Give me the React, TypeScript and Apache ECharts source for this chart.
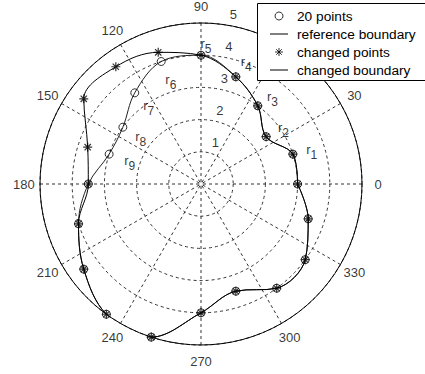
import React, { useEffect, useRef } from 'react';
import * as echarts from 'echarts';

// Angles (degrees) of the 20 sampled boundary points
const pointAngles = [0, 18, 36, 54, 72, 90, 108, 126, 144, 162, 180, 198, 216, 234, 252, 270, 288, 306, 324, 342];
// Radii of the reference boundary points
const referenceRadii = [3.0, 3.0, 2.5, 3.0, 3.5, 4.0, 4.0, 3.5, 3.0, 3.0, 3.5, 4.0, 4.5, 5.0, 5.0, 4.0, 3.5, 4.0, 4.0, 3.5];
// Radii of the changed boundary points
const changedRadii = [3.0, 3.0, 2.5, 3.0, 3.5, 4.0, 4.3, 4.5, 4.5, 3.7, 3.5, 4.0, 4.5, 5.0, 5.0, 4.0, 3.5, 4.0, 4.0, 3.5];

// Tick labels
const angleTickLabels = [0, 30, 60, 90, 120, 150, 180, 210, 240, 270, 300, 330];
const ringTickLabels = [1, 2, 3, 4, 5];

// r_i annotations: subscript, radius, angle
const markerSubscripts = ['1', '2', '3', '4', '5', '6', '7', '8', '9'];
const markerRadii = [3.6, 3.1, 3.51, 4.06, 4.38, 3.38, 2.93, 2.38, 2.33];
const markerAngles = [17.2, 34.3, 50.8, 69.8, 88, 106.1, 123.7, 141.9, 162];

const legendNames = ['20 points', 'reference boundary', 'changed points', 'changed boundary'];

const FONT = '"Liberation Sans", Arial, sans-serif';
const STAR = 'path://M5,0L5,10M0,5L10,5M1.5,1.5L8.5,8.5M8.5,1.5L1.5,8.5';
const LINE_ICON = 'path://M0,0M0,3.5L18,3.5L18,4.5L0,4.5ZM18,8';

export default function App() {
  const ref = useRef<HTMLDivElement>(null);

  useEffect(() => {
    if (!ref.current) return;
    const chart = echarts.init(ref.current, null, { renderer: 'svg' });

    const refPts = pointAngles.map((a, i) => [referenceRadii[i], a]);
    const chgPts = pointAngles.map((a, i) => [changedRadii[i], a]);
    const refLoop = [...refPts, [referenceRadii[0], 360]];
    const chgLoop = [...chgPts, [changedRadii[0], 360]];

    const gridLine = { color: '#333', width: 1, type: [3, 3] };
    const hollow = { color: 'transparent', borderColor: '#000', borderWidth: 1 };

    const option: any = {
      animation: false,
      backgroundColor: '#fff',
      textStyle: { fontFamily: FONT },
      polar: { center: [201, 184], radius: 161 },
      angleAxis: {
        type: 'value',
        min: 0,
        max: 360,
        interval: 30,
        startAngle: 0,
        clockwise: false,
        axisLine: { show: true, lineStyle: { color: '#000', width: 1 } },
        axisTick: { show: false },
        axisLabel: { show: false },
        splitLine: { show: true, lineStyle: gridLine },
      },
      radiusAxis: {
        type: 'value',
        min: 0,
        max: 5,
        interval: 1,
        axisLine: { show: false },
        axisTick: { show: false },
        axisLabel: { show: false },
        splitLine: { show: true, lineStyle: gridLine },
      },
      graphic: [
        {
          type: 'rect',
          z: 50,
          shape: { x: 257.5, y: 3.5, width: 200, height: 77 },
          style: { fill: '#fff', stroke: '#000', lineWidth: 1 },
        },
      ],
      legend: {
        orient: 'vertical',
        left: 257,
        top: 3,
        z: 60,
        padding: [6, 4, 4, 13],
        itemWidth: 18,
        itemHeight: 8,
        itemGap: 4,
        backgroundColor: 'transparent',
        borderWidth: 0,
        selectedMode: false,
        textStyle: { fontFamily: FONT, fontSize: 13.7, color: '#000', lineHeight: 14, padding: [0, 0, 0, 4] },
        data: [
          { name: legendNames[0], icon: 'circle', itemStyle: { ...hollow } },
          { name: legendNames[1], icon: LINE_ICON, itemStyle: { color: '#000', borderWidth: 0 } },
          { name: legendNames[2], icon: STAR, itemStyle: { ...hollow } },
          { name: legendNames[3], icon: LINE_ICON, itemStyle: { color: '#000', borderWidth: 0 } },
        ],
      },
      series: [
        {
          name: legendNames[1],
          type: 'line',
          coordinateSystem: 'polar',
          data: refLoop,
          smooth: 0.35,
          symbol: 'none',
          clip: false,
          itemStyle: { color: '#000' },
          lineStyle: { color: '#222', width: 1 },
          z: 3,
        },
        {
          name: legendNames[0],
          type: 'scatter',
          coordinateSystem: 'polar',
          data: refPts,
          symbol: 'circle',
          symbolSize: 8,
          clip: false,
          itemStyle: hollow,
          z: 4,
        },
        {
          name: legendNames[3],
          type: 'line',
          coordinateSystem: 'polar',
          data: chgLoop,
          smooth: 0.35,
          symbol: 'none',
          clip: false,
          itemStyle: { color: '#000' },
          lineStyle: { color: '#000', width: 1 },
          z: 5,
        },
        {
          name: legendNames[2],
          type: 'scatter',
          coordinateSystem: 'polar',
          data: chgPts,
          symbol: STAR,
          symbolSize: 9,
          clip: false,
          itemStyle: { color: 'transparent', borderColor: '#000', borderWidth: 1.2 },
          z: 6,
        },
        {
          name: 'angleLabels',
          type: 'scatter',
          coordinateSystem: 'polar',
          silent: true,
          clip: false,
          symbolSize: 0,
          data: angleTickLabels.map((a) => ({ value: [5.5, a], name: String(a) })),
          label: {
            show: true,
            position: 'inside',
            formatter: (p: any) => p.name,
            fontFamily: FONT,
            fontSize: 13,
            color: '#000',
          },
          z: 7,
        },
        {
          name: 'ringLabels',
          type: 'scatter',
          coordinateSystem: 'polar',
          silent: true,
          clip: false,
          symbolSize: 0,
          data: ringTickLabels.map((r) => ({ value: [r + 0.05, 82], name: String(r) })),
          label: {
            show: true,
            position: [6, -15],
            align: 'left',
            verticalAlign: 'top',
            lineHeight: 13,
            formatter: (p: any) => p.name,
            fontFamily: FONT,
            fontSize: 13,
            color: '#000',
          },
          z: 7,
        },
        {
          name: 'markerLabels',
          type: 'scatter',
          coordinateSystem: 'polar',
          silent: true,
          clip: false,
          symbolSize: 0,
          data: markerSubscripts.map((s, i) => ({ value: [markerRadii[i], markerAngles[i]], name: s })),
          label: {
            show: true,
            position: 'inside',
            formatter: (p: any) => `{r|r}{s|${p.name}}`,
            rich: {
              r: { fontFamily: FONT, fontSize: 13, lineHeight: 13, verticalAlign: 'top', color: '#000' },
              s: { fontFamily: FONT, fontSize: 12, lineHeight: 12, verticalAlign: 'top', padding: [6, 0, 0, 0], color: '#000' },
            },
          },
          z: 7,
        },
      ],
    };

    chart.setOption(option);
    return () => chart.dispose();
  }, []);

  return (
    <div
      ref={ref}
      style={{ position: 'fixed', left: 0, top: 0, width: 425, height: 374, background: '#fff' }}
    />
  );
}
